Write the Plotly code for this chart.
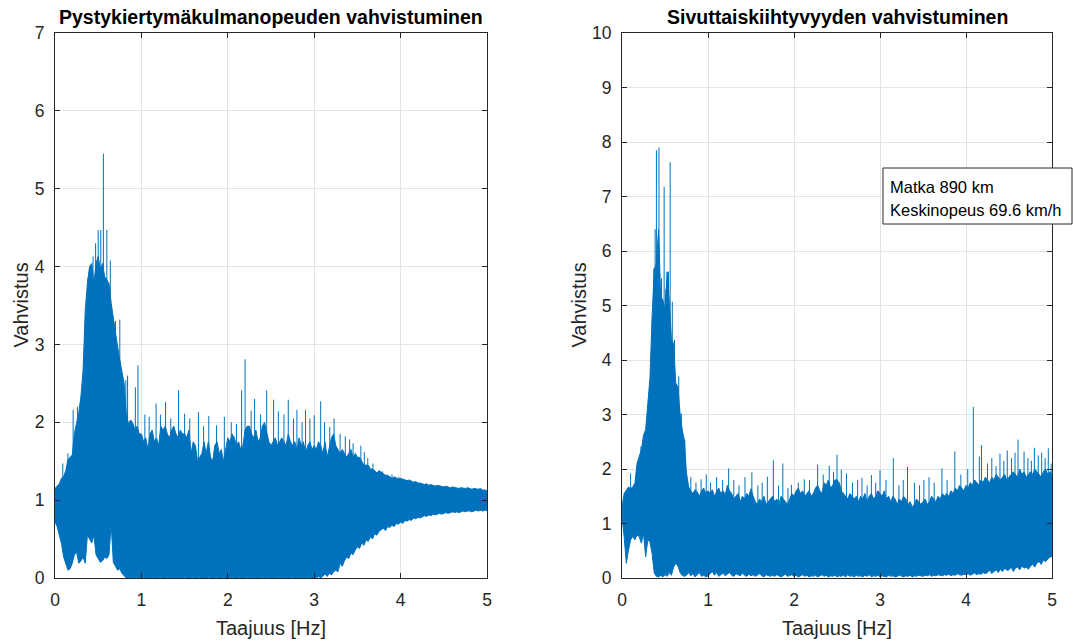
import numpy as np
import plotly.graph_objects as go

# Frequency grid of the envelope samples [Hz]
FREQ_HZ = np.linspace(0.0, 5.0, 201)

# --- Pitch-rate gain (left panel) -------------------------------------------
PITCH_UPPER = [
    1.15, 1.18, 1.21, 1.28, 1.30, 1.38, 1.52, 1.55, 1.58, 1.86,
    1.99, 2.12, 2.33, 2.67, 3.44, 3.78, 4.00, 4.04, 3.78, 4.04,
    4.13, 3.96, 4.04, 3.87, 3.83, 3.78, 3.53, 3.33, 3.10, 2.97,
    2.80, 2.67, 2.50, 2.11, 1.98, 2.03, 1.99, 1.90, 1.95, 1.85,
    1.85, 1.75, 1.80, 1.65, 1.85, 1.90, 1.75, 1.80, 1.70, 1.95,
    1.90, 1.95, 1.85, 1.80, 1.90, 1.95, 1.85, 1.80, 1.90, 1.85,
    1.85, 1.80, 1.90, 1.60, 1.75, 1.70, 1.50, 1.55, 1.60, 1.75,
    1.60, 1.75, 1.55, 1.50, 1.70, 1.75, 1.60, 1.65, 1.50, 1.65,
    1.80, 1.75, 1.85, 1.80, 1.70, 1.75, 1.65, 1.70, 1.90, 1.95,
    1.95, 1.85, 1.80, 1.90, 1.75, 1.80, 1.95, 2.00, 1.85, 1.75,
    1.70, 1.75, 1.80, 1.70, 1.75, 1.80, 1.75, 1.70, 1.85, 1.75,
    1.70, 1.75, 1.65, 1.80, 1.70, 1.75, 1.60, 1.70, 1.75, 1.65,
    1.70, 1.65, 1.75, 1.70, 1.60, 1.75, 1.55, 1.70, 1.80, 1.85,
    1.70, 1.65, 1.60, 1.65, 1.60, 1.55, 1.60, 1.65, 1.55, 1.60,
    1.55, 1.55, 1.50, 1.45, 1.45, 1.45, 1.40, 1.40, 1.38, 1.35,
    1.38, 1.36, 1.35, 1.32, 1.32, 1.30, 1.28, 1.30, 1.28, 1.27,
    1.28, 1.27, 1.26, 1.25, 1.26, 1.24, 1.23, 1.24, 1.22, 1.22,
    1.21, 1.20, 1.21, 1.19, 1.20, 1.19, 1.18, 1.19, 1.18, 1.17,
    1.17, 1.18, 1.17, 1.16, 1.17, 1.16, 1.16, 1.15, 1.16, 1.15,
    1.15, 1.16, 1.15, 1.14, 1.15, 1.14, 1.14, 1.15, 1.13, 1.13,
    1.12,
]
PITCH_LOWER = [
    0.72, 0.66, 0.57, 0.44, 0.27, 0.19, 0.10, 0.12, 0.19, 0.30,
    0.33, 0.19, 0.22, 0.27, 0.19, 0.55, 0.50, 0.45, 0.55, 0.30,
    0.25, 0.20, 0.22, 0.27, 0.25, 0.30, 0.70, 0.20, 0.15, 0.10,
    0.12, 0.06, 0.03, 0.00, 0.00, 0.01, 0.00, 0.00, 0.01, 0.00,
    0.00, 0.01, 0.00, 0.00, 0.00, 0.01, 0.00, 0.00, 0.00, 0.01,
    0.00, 0.00, 0.01, 0.00, 0.00, 0.00, 0.01, 0.00, 0.00, 0.00,
    0.01, 0.00, 0.00, 0.00, 0.01, 0.00, 0.00, 0.01, 0.00, 0.00,
    0.00, 0.01, 0.00, 0.00, 0.00, 0.01, 0.00, 0.00, 0.01, 0.00,
    0.00, 0.00, 0.01, 0.00, 0.00, 0.01, 0.00, 0.00, 0.00, 0.01,
    0.00, 0.00, 0.01, 0.00, 0.00, 0.00, 0.01, 0.00, 0.00, 0.01,
    0.00, 0.00, 0.00, 0.01, 0.00, 0.00, 0.01, 0.00, 0.00, 0.00,
    0.01, 0.00, 0.00, 0.00, 0.01, 0.00, 0.00, 0.01, 0.00, 0.00,
    0.00, 0.00, 0.02, 0.00, 0.03, 0.05, 0.02, 0.06, 0.04, 0.08,
    0.10, 0.08, 0.19, 0.15, 0.22, 0.27, 0.25, 0.32, 0.30, 0.36,
    0.40, 0.38, 0.45, 0.42, 0.49, 0.47, 0.53, 0.50, 0.57, 0.55,
    0.60, 0.62, 0.64, 0.61, 0.66, 0.65, 0.68, 0.66, 0.70, 0.69,
    0.72, 0.70, 0.74, 0.73, 0.75, 0.74, 0.77, 0.76, 0.78, 0.77,
    0.79, 0.80, 0.79, 0.81, 0.80, 0.82, 0.81, 0.82, 0.83, 0.82,
    0.83, 0.84, 0.83, 0.84, 0.85, 0.84, 0.85, 0.84, 0.85, 0.86,
    0.85, 0.86, 0.86, 0.85, 0.86, 0.87, 0.86, 0.87, 0.86, 0.87,
    0.87,
]
PITCH_PEAK_F = [
    0.09, 0.15, 0.21, 0.26, 0.31, 0.36, 0.38, 0.405, 0.44, 0.47,
    0.50, 0.53, 0.56, 0.60, 0.64, 0.70, 0.75, 0.82, 0.84, 0.93,
    0.96, 1.04, 1.09, 1.17, 1.22, 1.28, 1.34, 1.43, 1.50, 1.56,
    1.66, 1.72, 1.78, 1.87, 1.96, 2.04, 2.10, 2.16, 2.20, 2.27,
    2.31, 2.38, 2.45, 2.53, 2.585, 2.65, 2.70, 2.76, 2.80, 2.86,
    2.90, 2.95, 3.00, 3.075, 3.12, 3.18, 3.23, 3.30, 3.36, 3.41,
    3.45, 3.54, 3.58, 3.62, 3.68, 3.79, 3.90, 3.98,
]
PITCH_PEAK_V = [
    1.47, 1.60, 2.16, 2.20, 2.33, 3.40, 3.85, 3.99, 4.13, 4.30,
    4.47, 4.47, 5.45, 4.47, 4.08, 3.30, 3.32, 2.54, 2.60, 2.45,
    2.73, 2.10, 2.07, 2.24, 2.10, 2.26, 2.05, 2.41, 2.11, 2.05,
    2.13, 1.95, 2.08, 1.96, 2.07, 2.00, 1.98, 2.41, 2.81, 2.15,
    2.30, 2.10, 2.41, 2.29, 2.14, 2.10, 2.29, 2.05, 2.16, 2.00,
    2.16, 2.05, 2.09, 2.27, 2.00, 1.94, 2.05, 1.85, 1.82, 1.78,
    1.73, 1.70, 1.62, 1.54, 1.47, 1.37, 1.33, 1.30,
]

# --- Lateral acceleration gain (right panel) ---------------------------------
LAT_UPPER = [
    1.30, 1.55, 1.61, 1.67, 1.64, 1.67, 1.74, 2.10, 2.23, 2.35,
    2.62, 2.72, 3.20, 3.66, 4.80, 5.65, 5.77, 6.39, 5.16, 5.10,
    4.92, 5.62, 5.07, 4.37, 4.30, 3.57, 3.51, 3.02, 2.72, 2.53,
    1.92, 1.67, 1.60, 1.55, 1.62, 1.58, 1.50, 1.60, 1.65, 1.55,
    1.60, 1.55, 1.62, 1.50, 1.58, 1.65, 1.55, 1.60, 1.52, 1.70,
    1.60, 1.55, 1.45, 1.50, 1.55, 1.40, 1.50, 1.45, 1.55, 1.50,
    1.64, 1.50, 1.40, 1.35, 1.45, 1.40, 1.50, 1.35, 1.40, 1.45,
    1.50, 1.40, 1.45, 1.35, 1.50, 1.45, 1.40, 1.35, 1.45, 1.55,
    1.50, 1.60, 1.65, 1.55, 1.60, 1.50, 1.55, 1.60, 1.50, 1.55,
    1.65, 1.70, 1.60, 1.55, 1.75, 1.70, 1.80, 1.65, 1.70, 1.80,
    1.80, 1.75, 1.60, 1.55, 1.50, 1.45, 1.55, 1.50, 1.45, 1.50,
    1.40, 1.50, 1.45, 1.55, 1.40, 1.50, 1.55, 1.45, 1.50, 1.60,
    1.55, 1.50, 1.60, 1.45, 1.50, 1.40, 1.50, 1.45, 1.35, 1.45,
    1.40, 1.50, 1.45, 1.35, 1.40, 1.30, 1.35, 1.45, 1.40, 1.35,
    1.40, 1.45, 1.35, 1.40, 1.50, 1.45, 1.40, 1.50, 1.45, 1.55,
    1.50, 1.55, 1.50, 1.60, 1.55, 1.65, 1.60, 1.70, 1.65, 1.60,
    1.70, 1.65, 1.75, 1.70, 1.80, 1.75, 1.70, 1.80, 1.75, 1.85,
    1.80, 1.75, 1.85, 1.80, 1.90, 1.85, 1.80, 1.85, 1.90, 1.80,
    1.85, 1.90, 1.95, 1.90, 1.85, 2.00, 1.90, 1.95, 1.85, 1.90,
    1.95, 1.90, 2.00, 1.95, 1.90, 1.85, 1.95, 2.00, 1.90, 1.95,
    1.90,
]
LAT_LOWER = [
    1.12, 0.76, 0.27, 0.51, 0.70, 0.76, 0.70, 0.79, 0.76, 0.64,
    0.82, 0.39, 0.70, 0.66, 0.45, 0.09, 0.03, 0.02, 0.05, 0.02,
    0.06, 0.03, 0.10, 0.05, 0.20, 0.27, 0.22, 0.10, 0.05, 0.03,
    0.05, 0.10, 0.04, 0.08, 0.02, 0.06, 0.10, 0.03, 0.05, 0.02,
    0.04, 0.08, 0.12, 0.05, 0.10, 0.03, 0.06, 0.09, 0.04, 0.07,
    0.10, 0.05, 0.03, 0.08, 0.06, 0.04, 0.09, 0.05, 0.03, 0.07,
    0.04, 0.06, 0.03, 0.05, 0.08, 0.04, 0.02, 0.06, 0.05, 0.03,
    0.05, 0.03, 0.06, 0.04, 0.02, 0.05, 0.07, 0.03, 0.04, 0.06,
    0.03, 0.05, 0.02, 0.04, 0.06, 0.03, 0.05, 0.02, 0.04, 0.03,
    0.05, 0.02, 0.04, 0.06, 0.03, 0.05, 0.02, 0.04, 0.03, 0.05,
    0.02, 0.04, 0.03, 0.05, 0.02, 0.06, 0.03, 0.04, 0.02, 0.05,
    0.03, 0.04, 0.02, 0.05, 0.03, 0.06, 0.02, 0.04, 0.03, 0.05,
    0.02, 0.04, 0.03, 0.02, 0.05, 0.03, 0.04, 0.02, 0.03, 0.05,
    0.03, 0.02, 0.04, 0.03, 0.05, 0.02, 0.04, 0.03, 0.05, 0.04,
    0.03, 0.05, 0.04, 0.06, 0.03, 0.05, 0.04, 0.06, 0.05, 0.04,
    0.06, 0.05, 0.07, 0.04, 0.06, 0.05, 0.08, 0.06, 0.05, 0.07,
    0.06, 0.08, 0.05, 0.07, 0.09, 0.06, 0.08, 0.07, 0.10, 0.08,
    0.10, 0.15, 0.08, 0.12, 0.15, 0.10, 0.16, 0.12, 0.18, 0.14,
    0.15, 0.20, 0.12, 0.18, 0.20, 0.15, 0.22, 0.18, 0.20, 0.16,
    0.22, 0.25, 0.20, 0.28, 0.30, 0.25, 0.33, 0.30, 0.35, 0.38,
    0.40,
]
LAT_PEAK_F = [
    0.10, 0.17, 0.22, 0.275, 0.31, 0.34, 0.37, 0.385, 0.40, 0.415,
    0.43, 0.46, 0.49, 0.51, 0.54, 0.56, 0.585, 0.61, 0.635, 0.66,
    0.69, 0.73, 0.80, 0.86, 0.92, 0.98, 1.03, 1.10, 1.17, 1.24,
    1.30, 1.36, 1.43, 1.51, 1.58, 1.63, 1.69, 1.76, 1.82, 1.87,
    1.93, 1.97, 2.05, 2.12, 2.18, 2.275, 2.34, 2.41, 2.46, 2.50,
    2.55, 2.61, 2.68, 2.74, 2.79, 2.85, 2.90, 2.95, 3.00, 3.07,
    3.155, 3.22, 3.27, 3.32, 3.40, 3.46, 3.51, 3.57, 3.63, 3.72,
    3.78, 3.87, 3.94, 4.02, 4.085, 4.155, 4.18, 4.25, 4.30, 4.35,
    4.395, 4.44, 4.48, 4.53, 4.57, 4.605, 4.675, 4.72, 4.76, 4.795,
    4.84, 4.88, 4.92, 4.957, 4.99,
]
LAT_PEAK_V = [
    1.92, 2.04, 2.41, 2.64, 3.24, 3.63, 5.68, 6.40, 7.85, 6.00,
    7.90, 5.50, 7.18, 5.30, 5.62, 7.63, 5.07, 4.37, 3.57, 3.70,
    3.02, 2.53, 1.85, 1.75, 1.81, 1.90, 1.75, 1.85, 1.80, 2.01,
    1.80, 1.70, 1.85, 1.94, 1.70, 1.75, 1.86, 2.16, 1.70, 2.10,
    1.65, 1.71, 1.75, 1.81, 1.80, 2.08, 1.90, 2.06, 1.95, 2.26,
    1.99, 1.92, 1.75, 1.80, 1.84, 1.70, 1.89, 1.75, 1.98, 1.80,
    2.20, 1.70, 1.80, 2.04, 1.75, 1.70, 1.80, 1.85, 1.75, 2.01,
    1.80, 2.32, 1.90, 2.00, 3.14, 2.23, 2.44, 2.10, 2.20, 2.05,
    2.28, 2.15, 2.34, 2.20, 2.30, 2.54, 2.32, 2.20, 2.15, 2.39,
    2.25, 2.30, 2.20, 2.38, 2.10,
]

TITLES = ["Pystykiertymäkulmanopeuden vahvistuminen", "Sivuttaiskiihtyvyyden vahvistuminen"]
X_LABEL = "Taajuus [Hz]"
Y_LABEL = "Vahvistus"
Y_MAX = [7, 10]
INFO_LINES = ["Matka 890 km", "Keskinopeus 69.6 km/h"]

BLUE = "#0072BD"
INK = "#262626"
GRID = "#e3e3e3"
FONT = "Liberation Sans, Arial, Helvetica, sans-serif"

W, H = 1073, 644
M_L, M_R, M_T, M_B = 55, 21, 33, 66
PLOT_W = W - M_L - M_R
PLOT_H = H - M_T - M_B


def px_x(px):
    return (px - M_L) / PLOT_W


def px_y(py):
    return (H - M_B - py) / PLOT_H


DOMAINS = [[0.0, px_x(487)], [px_x(622), 1.0]]
Y_LABEL_X = [20, 578]

fig = go.Figure()

panels = [
    (PITCH_UPPER, PITCH_LOWER, PITCH_PEAK_F, PITCH_PEAK_V),
    (LAT_UPPER, LAT_LOWER, LAT_PEAK_F, LAT_PEAK_V),
]

for i, (upper, lower, pk_f, pk_v) in enumerate(panels):
    xa = "x" if i == 0 else "x2"
    ya = "y" if i == 0 else "y2"
    # dense band between lower and upper envelope
    band_x = np.concatenate([FREQ_HZ, FREQ_HZ[::-1]])
    band_y = np.concatenate([np.array(upper), np.array(lower)[::-1]])
    fig.add_trace(go.Scatter(
        x=band_x, y=band_y, mode="lines", fill="toself", fillcolor=BLUE,
        line=dict(color=BLUE, width=1), xaxis=xa, yaxis=ya,
        hoverinfo="skip", showlegend=False,
    ))
    # individual narrow peaks rising out of the band (drawn from unity gain)
    sx, sy = [], []
    for f, v in zip(pk_f, pk_v):
        sx += [f, f, None]
        sy += [1.0, v, None]
    fig.add_trace(go.Scatter(
        x=sx, y=sy, mode="lines", line=dict(color=BLUE, width=1),
        xaxis=xa, yaxis=ya, hoverinfo="skip", showlegend=False,
        connectgaps=False,
    ))

axis_common = dict(
    showline=True, linecolor=INK, linewidth=1, mirror="ticks",
    ticks="inside", ticklen=5, tickcolor=INK, tickwidth=1,
    showgrid=True, gridcolor=GRID, gridwidth=1, zeroline=False,
    tickfont=dict(family=FONT, size=17.5, color=INK),
    automargin=False, ticklabelstandoff=6,
)

layout = dict(
    width=W, height=H,
    margin=dict(l=M_L, r=M_R, t=M_T, b=M_B, pad=0, autoexpand=False),
    paper_bgcolor="white", plot_bgcolor="white",
    showlegend=False,
    font=dict(family=FONT, color=INK),
)

for i in range(2):
    sfx = "" if i == 0 else "2"
    layout["xaxis" + sfx] = dict(
        axis_common, domain=DOMAINS[i], range=[0, 5], dtick=1, tick0=0,
        anchor="y" + sfx,
    )
    layout["yaxis" + sfx] = dict(
        axis_common, domain=[0, 1], range=[0, Y_MAX[i]], dtick=1, tick0=0,
        anchor="x" + sfx,
    )

fig.update_layout(**layout)

for i in range(2):
    # panel title
    fig.add_annotation(
        x=(DOMAINS[i][0] + DOMAINS[i][1]) / 2, y=1.0, xref="paper", yref="paper",
        xanchor="center", yanchor="bottom", yshift=3, showarrow=False,
        text="<b>" + TITLES[i] + "</b>",
        font=dict(family=FONT, size=19.5, color="black"),
    )
    # axis labels
    fig.add_annotation(
        x=(DOMAINS[i][0] + DOMAINS[i][1]) / 2, y=px_y(628), xref="paper", yref="paper",
        xanchor="center", yanchor="middle", showarrow=False, text=X_LABEL,
        font=dict(family=FONT, size=20, color=INK),
    )
    fig.add_annotation(
        x=px_x(Y_LABEL_X[i]), y=0.5, xref="paper", yref="paper",
        xanchor="center", yanchor="middle", showarrow=False, text=Y_LABEL,
        textangle=-90, font=dict(family=FONT, size=20, color=INK),
    )

# text box with trip information
fig.add_shape(
    type="rect", xref="paper", yref="paper",
    x0=px_x(883), x1=px_x(1072), y0=px_y(224), y1=px_y(168),
    line=dict(color=INK, width=1), fillcolor="white", layer="above",
)
for line, py in zip(INFO_LINES, [187, 210]):
    fig.add_annotation(
        x=px_x(888), y=px_y(py), xref="paper", yref="paper",
        xanchor="left", yanchor="middle", showarrow=False, text=line,
        font=dict(family=FONT, size=16.5, color="black"),
    )

fig.write_html("out.html")
